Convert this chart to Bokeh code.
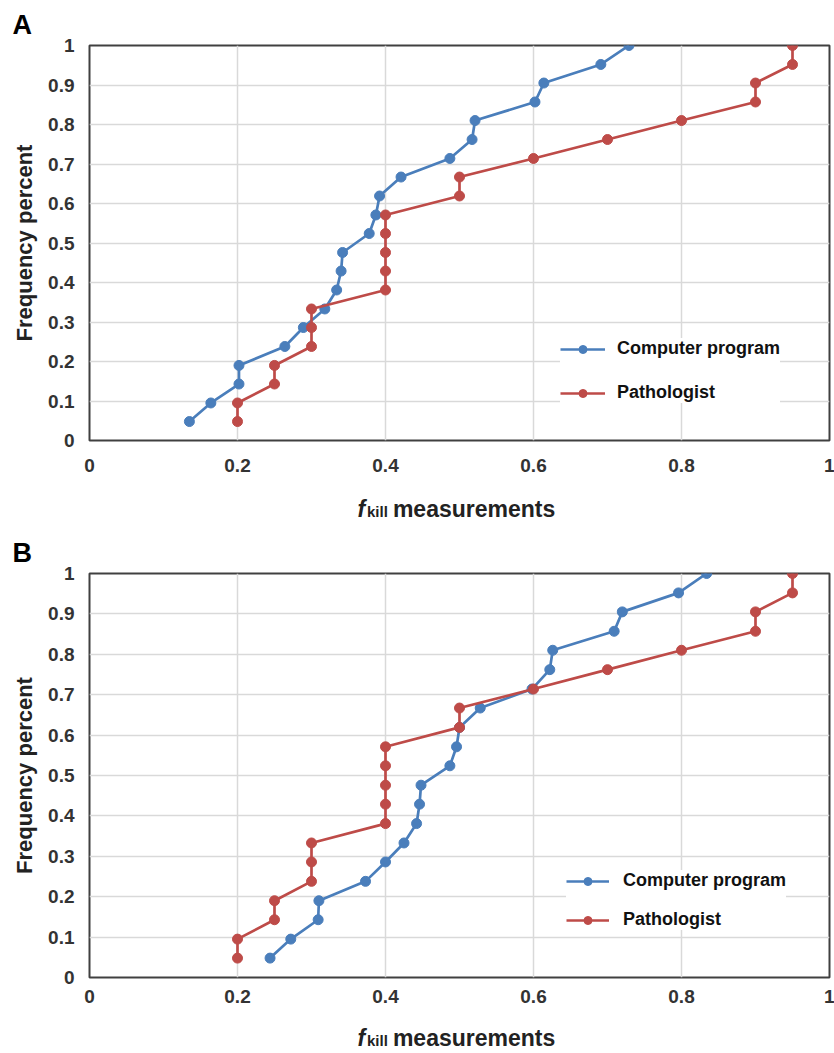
from bokeh.plotting import figure
from bokeh.layouts import column
from bokeh.models import Range1d, FixedTicker, Label, Legend, LegendItem
from bokeh.embed import file_html
from bokeh.resources import INLINE

# ---------------- data ----------------
freq = [0.048, 0.095, 0.143, 0.190, 0.238, 0.286, 0.333, 0.381, 0.429, 0.476, 0.524,
        0.571, 0.619, 0.667, 0.714, 0.762, 0.810, 0.857, 0.905, 0.952, 1.0]

computer_a = [0.135, 0.164, 0.202, 0.202, 0.264, 0.289, 0.318, 0.334, 0.340, 0.342, 0.378,
              0.387, 0.392, 0.421, 0.487, 0.517, 0.521, 0.602, 0.614, 0.691, 0.729]
pathologist_a = [0.2, 0.2, 0.25, 0.25, 0.3, 0.3, 0.3, 0.4, 0.4, 0.4, 0.4,
                 0.4, 0.5, 0.5, 0.6, 0.7, 0.8, 0.9, 0.9, 0.95, 0.95]

computer_b = [0.244, 0.272, 0.309, 0.310, 0.373, 0.400, 0.425, 0.442, 0.446, 0.448, 0.487,
              0.496, 0.500, 0.528, 0.598, 0.622, 0.626, 0.709, 0.720, 0.796, 0.834]
pathologist_b = [0.2, 0.2, 0.25, 0.25, 0.3, 0.3, 0.3, 0.4, 0.4, 0.4, 0.4,
                 0.4, 0.5, 0.5, 0.6, 0.7, 0.8, 0.9, 0.9, 0.95, 0.95]

x_ticks = [0, 0.2, 0.4, 0.6, 0.8, 1]
x_tick_labels = ["0", "0.2", "0.4", "0.6", "0.8", "1"]
y_ticks = [0, 0.1, 0.2, 0.3, 0.4, 0.5, 0.6, 0.7, 0.8, 0.9, 1]
y_tick_labels = ["0", "0.1", "0.2", "0.3", "0.4", "0.5", "0.6", "0.7", "0.8", "0.9", "1"]

series_names = ["Computer program", "Pathologist"]
y_title = "Frequency percent"
x_title_parts = ["f", "kill", "measurements"]
panel_letters = ["A", "B"]

BLUE = "#4a7ebb"
RED = "#be4b48"
FONT = "Liberation Sans"
W = 834
LEFT = 89
RIGHT = 5


def footer(height, baseline):
    s = figure(width=W, height=height, output_backend="svg", toolbar_location=None,
               x_range=Range1d(0, 1), y_range=Range1d(0, height),
               x_axis_type=None, y_axis_type=None,
               min_border_left=LEFT, min_border_right=RIGHT,
               min_border_top=0, min_border_bottom=0)
    s.outline_line_color = None
    s.background_fill_color = "white"
    s.border_fill_color = "white"
    s.add_layout(Label(x=0.362, y=baseline, text=x_title_parts[0], text_font=FONT,
                       text_font_style="bold italic", text_font_size="23px",
                       text_color="#222222", text_baseline="alphabetic"))
    s.add_layout(Label(x=0.375, y=baseline - 3, text=x_title_parts[1], text_font=FONT,
                       text_font_style="bold", text_font_size="15px",
                       text_color="#222222", text_baseline="alphabetic"))
    s.add_layout(Label(x=0.410, y=baseline, text=x_title_parts[2], text_font=FONT,
                       text_font_style="bold", text_font_size="23px",
                       text_color="#222222", text_baseline="alphabetic"))
    return s


def make_panel(letter, comp, path, height, border_top, border_bottom,
               tick_standoff, legend_loc, legend_spacing, glyph_w, label_standoff,
               title_standoff):
    p = figure(width=W, height=height, output_backend="svg", toolbar_location=None,
               x_range=Range1d(0, 1), y_range=Range1d(0, 1),
               min_border_left=LEFT, min_border_right=RIGHT,
               min_border_top=border_top, min_border_bottom=border_bottom,
               title=letter)
    p.title.text_font = FONT
    p.title.text_font_size = "27px"
    p.title.text_font_style = "bold"
    p.title.text_color = "#000000"
    p.title.align = "left"
    p.title.offset = 12 - LEFT
    p.title.standoff = title_standoff

    p.outline_line_color = "#404040"
    p.outline_line_width = 2
    p.background_fill_color = "white"
    p.border_fill_color = "white"

    p.xaxis.ticker = FixedTicker(ticks=x_ticks)
    p.yaxis.ticker = FixedTicker(ticks=y_ticks)
    p.xaxis.major_label_overrides = dict(zip(x_ticks, x_tick_labels))
    p.yaxis.major_label_overrides = dict(zip(y_ticks, y_tick_labels))
    for ax in (p.xaxis, p.yaxis):
        ax.axis_line_color = None
        ax.major_tick_line_color = None
        ax.minor_tick_line_color = None
        ax.major_label_text_font = FONT
        ax.major_label_text_font_style = "bold"
        ax.major_label_text_font_size = "19px"
        ax.major_label_text_color = "#333333"
    p.xaxis.major_label_standoff = tick_standoff
    p.yaxis.major_label_standoff = 9
    p.yaxis.axis_label = y_title
    p.yaxis.axis_label_text_font = FONT
    p.yaxis.axis_label_text_font_style = "bold"
    p.yaxis.axis_label_text_font_size = "22px"
    p.yaxis.axis_label_text_color = "#222222"
    p.yaxis.axis_label_standoff = 8

    p.xgrid.grid_line_color = "#d9d9d9"
    p.ygrid.grid_line_color = "#d9d9d9"
    p.xgrid.grid_line_width = 1.5
    p.ygrid.grid_line_width = 1.5

    items = []
    for vals, color, name in ((comp, BLUE, series_names[0]), (path, RED, series_names[1])):
        l = p.line(vals, freq, line_color=color, line_width=2.7)
        s = p.scatter(vals, freq, size=10, fill_color=color, line_color=color)
        items.append(LegendItem(label=name, renderers=[l, s]))

    legend = Legend(items=items, location=legend_loc, padding=0, margin=0,
                    spacing=legend_spacing, glyph_width=glyph_w, glyph_height=20,
                    label_height=20, label_standoff=label_standoff,
                    label_text_font=FONT, label_text_font_size="18px",
                    label_text_font_style="bold",
                    label_text_color="#111111",
                    border_line_color=None, background_fill_color="white",
                    background_fill_alpha=1.0)
    p.add_layout(legend, "center")
    return p


# Panel A: main 478 (frame 45..440), footer 49
pa = make_panel(panel_letters[0], computer_a, pathologist_a, 478, 45, 38,
                12, (471, 37), 23, 45, 12, 12)
fa = footer(49, 19)

# Panel B: main 481 (frame 573..977 -> 46..450), footer 45
pb = make_panel(panel_letters[1], computer_b, pathologist_b, 481, 46, 31,
                6, (477, 47), 18, 43, 14, 12)
fb = footer(45, 16)

layout = column(pa, fa, pb, fb, spacing=0)
open("out.html", "w").write(file_html(layout, INLINE))
